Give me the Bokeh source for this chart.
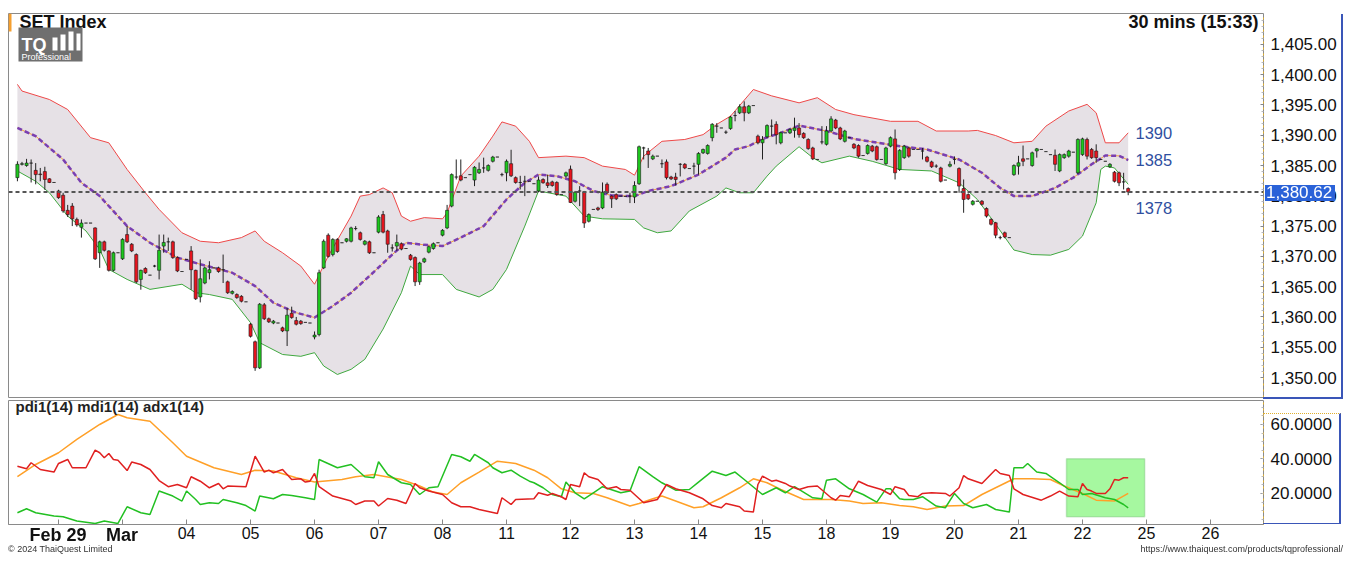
from bokeh.plotting import figure
from bokeh.models import (Range1d, FixedTicker, NumeralTickFormatter, PrintfTickFormatter,
                          Span, Label, BoxAnnotation, Div, ColumnDataSource, Spacer)
from bokeh.layouts import column, row
from bokeh.embed import file_html
from bokeh.resources import INLINE
from bokeh.core.properties import value

FONT = "Liberation Sans"

# ---------------- data (30-min bars, bar index 0..243) ----------------
opens = [1383.0,1385.2,1385.0,1385.4,1384.2,1383.6,1384.0,1382.8,1382.2,
 1380.8,1380.1,1377.6,1378.3,1376.1,1374.8,1375.5,1375.5,1374.7,1370.6,1372.4,1370.9,1367.7,1370.6,
 1369.6,1373.6,1372.0,1370.3,1366.2,1368.0,1366.9,1368.4,1367.7,1371.7,1372.4,1372.4,1369.8,1367.5,
 1369.5,1370.9,1367.7,1363.3,1365.6,1367.3,1368.1,1368.1,1367.8,1365.8,1363.9,1363.7,1363.4,1362.5,
 1358.8,1355.9,1351.6,1362.0,1359.7,1359.0,1359.0,1358.2,1357.7,1360.6,1359.4,1359.3,1359.1,1359.0,
 1356.7,1357.1,1368.1,1373.5,1370.3,1372.8,1372.25,1372.5,1372.5,1374.6,1373.9,1372.0,1372.4,1370.6,
 1374.0,1376.9,1374.2,1371.4,1371.7,1372.1,1371.3,1370.2,1369.8,1365.8,1369.1,1370.7,1371.3,1372.25,
 1373.5,1374.7,1378.3,1383.1,1383.3,1383.0,1383.5,1382.6,1383.8,1384.6,1384.2,1385.7,1386.4,1383.5,
 1383.8,1385.3,1383.0,1382.2,1382.4,1382.4,1382.0,1380.8,1382.7,1382.15,1382.3,1382.2,1380.2,1383.25,
 1384.4,1379.1,1380.8,1380.6,1375.8,1377.75,1378.0,1378.0,1381.9,1379.95,1380.2,1379.95,1379.9,1379.95,
 1379.8,1382.0,1387.9,1387.4,1386.1,1386.55,1385.3,1385.6,1383.1,1383.1,1385.2,1385.2,1384.5,1384.9,
 1385.2,1387.1,1387.0,1389.6,1391.5,1391.2,1390.5,1391.1,1393.25,1393.7,1394.7,1393.7,1394.9,
 1389.85,1388.75,1389.75,1391.5,1391.8,1388.75,1390.4,1390.4,1390.8,1391.2,1390.3,1389.3,1387.9,1386.0,
 1388.9,1388.5,1390.7,1392.5,1391.2,1389.0,1389.6,1388.5,1388.3,1386.65,1387.0,1388.2,1388.1,1386.0,
 1385.3,1388.2,1389.4,1384.35,1386.3,1387.9,1387.65,1387.65,1387.4,1386.4,1385.6,1384.9,1384.6,1382.6,
 1384.9,1386.0,1384.5,1381.2,1380.2,1378.6,1379.1,1379.1,1377.9,1376.1,1375.55,1373.1,1373.9,1373.1,
 1383.5,1384.9,1386.1,1386.1,1385.0,1387.4,1387.65,1387.3,1386.8,1386.7,1384.1,1386.3,1386.55,1387.2,
 1383.8,1386.8,1389.3,1387.65,1387.4,1386.0,1385.7,1384.8,1383.9,1383.8,1382.3,1381.2]
highs = [1385.7,1385.6,1386.1,1386.0,1385.4,1384.6,1384.8,1382.9,1382.2,
 1381.0,1380.5,1378.5,1378.8,1376.4,1376.1,1375.5,1375.5,1374.8,1372.6,1372.6,1371.0,1370.8,1370.6,
 1373.0,1375.0,1372.2,1370.5,1367.8,1368.2,1366.9,1368.6,1373.6,1373.6,1373.1,1372.6,1370.0,1367.5,
 1369.5,1371.7,1367.8,1369.5,1368.3,1369.2,1368.1,1368.3,1370.3,1366.0,1364.4,1363.9,1363.6,1362.5,
 1359.0,1356.1,1362.3,1362.3,1359.9,1359.5,1359.0,1358.4,1361.5,1361.7,1360.0,1359.5,1359.1,1359.0,
 1357.6,1367.8,1372.8,1373.8,1373.0,1373.0,1372.25,1373.0,1374.9,1375.0,1374.1,1372.7,1372.6,1370.6,
 1376.8,1377.5,1374.4,1372.0,1373.6,1372.3,1371.3,1370.4,1370.0,1369.1,1369.8,1371.8,1372.3,1372.25,
 1374.5,1378.5,1383.7,1386.0,1386.0,1383.0,1383.5,1384.9,1385.5,1386.3,1385.2,1386.6,1386.4,1383.8,
 1386.0,1387.6,1383.2,1383.3,1383.3,1382.4,1382.0,1383.2,1382.9,1383.5,1382.5,1382.4,1380.2,1384.0,
 1385.0,1380.8,1381.6,1380.8,1377.1,1377.75,1378.2,1382.2,1382.2,1380.1,1380.4,1379.95,1379.9,1380.5,
 1382.4,1388.3,1388.1,1387.9,1386.8,1386.55,1386.0,1386.0,1383.3,1383.8,1385.4,1385.4,1384.5,1385.45,
 1387.2,1387.8,1388.5,1392.0,1392.0,1391.2,1390.8,1393.2,1394.0,1395.1,1395.6,1395.0,1394.9,
 1390.1,1389.85,1391.8,1392.6,1392.3,1390.6,1390.4,1391.1,1392.9,1392.0,1390.5,1389.5,1388.1,1386.0,
 1391.5,1391.5,1393.15,1392.7,1391.4,1390.9,1389.6,1388.7,1388.5,1386.65,1388.5,1388.4,1388.3,1386.0,
 1388.1,1389.8,1390.95,1387.7,1388.4,1388.1,1387.65,1387.65,1387.9,1386.6,1385.8,1385.2,1384.8,1382.6,
 1385.7,1386.5,1384.7,1382.7,1380.4,1379.3,1379.1,1379.3,1378.1,1376.3,1375.7,1373.4,1374.1,1373.1,
 1385.2,1386.6,1388.3,1386.1,1387.3,1387.9,1387.65,1387.3,1386.8,1387.65,1387.0,1387.0,1387.6,1387.2,
 1389.5,1389.6,1389.6,1387.9,1388.5,1386.0,1385.7,1385.4,1384.1,1384.0,1383.8,1381.4]
lows = [1382.4,1385.0,1384.8,1382.2,1381.9,1382.4,1381.0,1382.1,1382.2,
 1379.5,1377.2,1376.5,1375.0,1374.9,1373.1,1375.5,1375.5,1369.4,1368.1,1370.8,1367.5,1367.5,1370.6,
 1369.4,1372.2,1370.7,1365.6,1364.5,1367.1,1366.9,1368.2,1366.2,1370.6,1370.9,1369.6,1367.4,1367.5,
 1369.5,1364.5,1362.8,1362.4,1365.4,1366.2,1368.1,1367.3,1365.6,1363.8,1363.7,1363.0,1362.4,1362.5,
 1356.6,1351.1,1351.4,1359.5,1359.0,1358.8,1359.0,1357.5,1355.2,1359.7,1358.6,1358.7,1359.1,1359.0,
 1356.3,1356.8,1367.9,1369.8,1370.0,1370.6,1372.25,1372.3,1372.3,1374.3,1372.6,1371.8,1370.4,1370.6,
 1373.8,1373.8,1370.6,1370.8,1370.9,1371.0,1371.3,1369.3,1365.1,1365.3,1368.9,1370.5,1371.1,1372.25,
 1373.3,1374.5,1378.1,1382.7,1382.4,1383.0,1383.5,1381.6,1383.6,1383.8,1384.0,1385.5,1386.4,1383.2,
 1382.4,1383.1,1382.0,1381.05,1379.95,1382.4,1382.0,1380.6,1382.0,1381.3,1381.5,1380.0,1380.2,1383.0,
 1378.8,1378.9,1378.3,1374.7,1375.6,1377.75,1377.5,1377.8,1380.3,1378.0,1379.3,1379.95,1379.9,1378.8,
 1378.8,1381.8,1386.0,1384.6,1385.9,1386.55,1384.6,1382.7,1382.6,1381.7,1383.2,1384.4,1384.5,1383.5,
 1383.5,1386.9,1386.8,1389.0,1390.4,1391.2,1390.2,1390.9,1392.3,1393.5,1392.3,1393.5,1394.9,
 1388.5,1386.0,1389.5,1389.85,1388.5,1388.5,1390.4,1390.2,1389.6,1389.6,1389.4,1387.6,1385.9,1386.0,
 1388.5,1388.3,1390.5,1391.0,1389.2,1388.8,1389.6,1387.7,1386.3,1386.65,1386.8,1387.2,1385.8,1386.0,
 1385.1,1388.0,1382.7,1384.1,1386.1,1386.3,1387.65,1387.65,1386.0,1385.5,1384.6,1384.6,1382.2,1382.6,
 1384.7,1385.2,1380.5,1377.2,1379.3,1378.4,1379.1,1378.4,1376.4,1375.1,1373.0,1372.8,1373.0,1373.1,
 1383.3,1383.5,1384.9,1386.1,1384.8,1386.3,1387.65,1387.3,1386.8,1384.1,1383.9,1386.1,1386.3,1387.2,
 1383.6,1386.6,1386.0,1386.1,1385.45,1386.0,1385.7,1384.6,1382.2,1381.6,1381.05,1380.1]
closes = [1385.2,1385.3,1385.4,1385.4,1383.5,1383.5,1382.7,1382.2,1382.2,
 1379.7,1377.5,1376.9,1376.2,1375.2,1375.5,1375.5,1375.5,1369.6,1372.4,1371.0,1367.7,1370.6,1370.6,
 1372.8,1372.4,1370.9,1365.8,1367.7,1367.3,1366.9,1368.4,1371.0,1372.3,1372.4,1369.8,1367.6,1367.5,
 1369.5,1367.8,1363.0,1366.3,1368.1,1367.8,1368.1,1367.5,1367.8,1364.0,1364.2,1363.2,1362.6,1362.5,
 1356.8,1351.6,1362.1,1359.7,1359.2,1359.3,1359.0,1357.7,1360.3,1359.9,1358.8,1358.9,1359.1,1359.0,
 1357.0,1367.3,1372.5,1370.0,1372.8,1370.8,1372.25,1372.9,1374.7,1374.6,1372.8,1372.5,1370.6,1370.6,
 1376.5,1374.0,1372.0,1371.4,1372.3,1371.2,1371.3,1369.5,1365.8,1368.9,1369.6,1371.6,1372.1,1372.25,
 1374.3,1377.6,1383.5,1383.1,1382.6,1383.0,1383.5,1384.7,1384.35,1384.6,1385.0,1386.4,1386.4,1383.5,
 1385.7,1383.3,1382.2,1382.2,1382.4,1382.4,1382.0,1382.6,1382.15,1381.7,1381.7,1380.2,1380.2,1383.8,
 1378.9,1380.6,1380.8,1375.5,1376.9,1377.75,1377.75,1380.6,1380.5,1379.5,1379.5,1379.95,1379.9,1379.95,
 1381.7,1388.1,1387.9,1386.8,1386.55,1386.55,1385.3,1383.0,1382.8,1382.7,1385.2,1384.6,1384.5,1384.9,
 1387.0,1387.65,1388.3,1391.8,1391.5,1391.2,1390.5,1393.0,1393.25,1394.7,1393.7,1394.8,1394.9,
 1388.75,1389.3,1391.6,1391.5,1390.1,1390.4,1390.4,1390.95,1391.2,1390.1,1389.6,1387.8,1386.1,1386.0,
 1388.9,1390.7,1392.7,1391.2,1389.4,1390.7,1389.6,1387.9,1386.55,1386.65,1388.3,1387.4,1386.0,1386.0,
 1387.9,1389.6,1383.8,1387.5,1388.2,1386.55,1387.65,1387.65,1387.4,1385.7,1384.8,1384.9,1382.4,1382.6,
 1385.2,1386.0,1381.6,1379.4,1379.5,1379.1,1379.1,1378.6,1376.65,1375.3,1373.5,1373.1,1373.2,1373.1,
 1385.0,1385.45,1385.7,1386.1,1387.1,1387.75,1387.65,1387.3,1386.8,1385.2,1386.8,1386.8,1387.4,1387.2,
 1389.3,1389.4,1386.55,1386.3,1386.3,1386.0,1385.7,1385.2,1382.4,1382.15,1382.3,1380.62]

# Bollinger band (20) readings: bar index -> value
bb_up_bar = [0,1,7,11,16,20,24,28,31,36,40,44,49,52,54,58,62,65,68,73,75,77,80,82,84,86,89,93,94,97,
             101,104,106,109,112,114,120,124,128,133,135,137,141,146,150,153,156,161,165,171,175,179,
             183,191,197,201,208,210,214,218,222,225,230,234,236,238,241,243]
bb_up = [1398.4,1397.3,1395.9,1394.25,1389.6,1388.75,1384.35,1380.5,1377.75,1373.9,1372.5,1372.25,
         1373.1,1374.2,1372.5,1370.6,1368.4,1365.4,1370.05,1376.65,1379.95,1380.2,1381.3,1380.5,
         1376.65,1375.8,1376.4,1376.2,1377.2,1383.25,1386.55,1389.85,1392.2,1391.5,1389.0,1386.3,
         1386.55,1386.3,1384.9,1384.35,1383.4,1386.55,1389.0,1389.3,1390.1,1391.8,1393.15,1397.55,
         1396.5,1395.35,1396.2,1394.25,1393.4,1392.3,1392.3,1390.7,1390.7,1390.8,1389.95,1388.75,
         1389.0,1391.5,1394.0,1395.1,1393.7,1388.75,1388.75,1390.4]
bb_mid_bar = [0,4,10,14,18,24,29,35,40,47,52,56,61,65,69,73,77,82,85,89,93,97,102,107,111,114,118,
              122,126,130,135,138,143,149,155,157,160,163,167,171,177,183,192,199,206,211,215,218,
              222,227,231,235,238,241,243]
bb_mid = [1391.2,1389.85,1386.0,1382.15,1379.95,1375.0,1372.25,1369.8,1368.7,1367.3,1365.1,1362.35,
          1360.7,1359.9,1361.8,1364.0,1366.75,1370.3,1372.25,1371.9,1371.7,1373.1,1375.0,1379.4,
          1382.15,1383.5,1383.25,1382.4,1380.8,1380.05,1379.95,1380.8,1381.6,1383.5,1386.3,1387.65,
          1388.2,1389.4,1390.4,1391.6,1390.7,1389.4,1388.3,1387.65,1386.0,1383.8,1381.3,1379.95,
          1379.95,1381.3,1383.0,1385.2,1386.65,1386.6,1385.9]
bb_low_bar = [0,4,7,11,15,18,20,24,29,36,39,42,47,51,53,58,62,65,67,70,73,76,80,84,86,88,93,96,101,
              104,107,111,114,120,124,128,135,137,140,143,147,153,155,158,161,164,166,171,174,176,
              182,187,193,200,206,210,214,218,222,226,230,233,236,237,238,240,243]
bb_low = [1384.1,1382.4,1380.5,1376.65,1374.2,1371.15,1367.85,1366.2,1364.55,1365.4,1364.0,1363.7,
          1362.9,1359.05,1355.75,1353.8,1353.5,1354.1,1351.9,1350.5,1351.35,1353.0,1358.0,1364.0,
          1368.4,1367.0,1367.0,1364.55,1363.3,1364.55,1367.85,1375.0,1380.8,1379.95,1376.65,1376.2,
          1376.1,1374.7,1373.9,1374.2,1377.5,1379.95,1381.3,1380.5,1380.5,1383.25,1384.9,1388.1,
          1386.3,1385.45,1386.55,1385.7,1384.35,1384.1,1382.15,1379.4,1375.3,1371.05,1370.3,1370.2,
          1371.15,1373.35,1378.85,1384.35,1384.9,1384.6,1381.9]
band_labels = ["1390", "1385", "1378"]

# DMI (14) readings: bar index -> value
adx_bar = [0,4,9,13,18,22,24,29,34,37,43,49,52,56,61,65,71,74,78,84,88,91,94,97,101,105,109,113,116,
           119,122,126,129,134,136,139,141,144,148,150,154,158,161,164,167,172,176,178,182,185,189,
           193,196,199,203,207,211,214,218,222,226,229,233,236,240,243]
adx = [29.7,36.8,43.6,51.3,60.0,65.8,63.9,61.9,49.4,41.6,34.9,31.0,33.5,33.0,29.1,26.6,28.1,29.7,31.0,
       28.1,24.3,20.8,19.4,26.2,32.4,38.7,37.4,33.5,29.1,22.7,20.4,20.0,17.5,12.7,14.2,16.9,18.5,15.6,
       11.7,12.3,17.5,23.3,28.5,26.2,22.3,16.5,16.5,16.5,15.6,14.2,14.6,13.0,12.3,10.7,12.7,13.0,19.4,
       23.3,28.5,28.5,28.1,24.3,20.0,16.1,15.6,20.0]
mdi_bar = [0,2,3,5,8,9,11,12,15,17,18,19,20,21,22,24,25,27,29,31,33,35,37,38,40,42,44,45,46,50,52,54,
           55,56,58,60,62,63,64,65,66,69,73,74,76,78,79,81,83,85,87,88,90,93,95,97,99,101,105,106,108,
           109,113,114,116,117,119,120,121,123,124,125,127,129,131,132,134,137,140,142,144,147,150,152,
           154,155,158,159,161,162,163,165,166,168,169,171,173,175,178,179,180,182,184,186,189,191,192,
           194,195,197,198,200,203,204,206,207,208,211,214,215,217,218,220,224,226,228,230,232,233,234,
           235,236,238,239,240,241,242,243]
mdi = [35.8,34.3,37.8,33.9,32.4,37.4,39.7,34.9,34.9,45.1,43.6,40.7,43.2,39.7,39.3,33.3,38.2,36.8,33.9,
       27.5,23.9,25.2,23.3,29.7,27.1,23.3,25.8,22.7,24.3,23.9,41.6,32.4,33.5,32.0,33.9,28.1,28.5,26.6,
       27.1,31.6,23.9,18.5,15.6,13.6,15.6,15.6,12.7,17.1,16.1,14.2,25.8,23.3,21.4,19.4,14.6,12.3,12.3,
       10.7,8.4,17.5,13.6,16.5,16.9,20.4,19.0,20.0,18.1,16.5,25.2,23.9,32.0,29.7,28.1,22.7,23.9,22.3,
       21.9,14.6,16.5,25.2,22.7,20.4,16.9,13.0,11.7,14.2,12.3,9.8,9.2,25.2,30.0,27.1,27.7,25.8,24.3,
       22.3,23.9,24.3,17.5,16.1,18.8,18.1,27.1,24.6,22.3,19.4,23.9,22.3,18.8,18.1,20.0,20.4,20.0,18.5,
       23.3,30.4,28.5,25.8,33.9,31.6,30.4,22.7,19.4,16.1,18.5,21.4,18.5,18.1,25.8,22.3,21.4,20.0,20.0,
       22.7,28.1,27.7,29.1,29.1]
pdi_bar = [0,2,4,8,10,13,17,19,22,24,27,29,31,34,36,37,39,40,42,44,45,48,50,52,53,56,58,60,63,65,66,
           70,73,76,78,79,81,84,86,88,90,92,95,97,99,100,103,104,106,108,110,112,113,115,117,119,120,
           122,124,126,128,132,134,136,139,141,144,147,149,152,155,157,159,163,166,168,170,174,176,177,
           179,182,185,188,190,191,193,194,196,198,201,203,205,207,209,212,214,217,218,220,221,223,225,
           228,230,232,233,235,238,240,242,243]
pdi = [8.8,11.1,8.8,6.9,6.5,4.0,2.6,4.0,2.6,12.3,8.8,7.8,21.4,18.5,15.6,21.4,16.5,13.6,14.6,14.2,16.5,
       14.6,13.0,9.8,18.5,16.9,19.4,18.8,17.5,16.5,39.7,34.9,36.8,29.7,29.1,38.4,31.0,26.2,25.2,19.4,
       23.3,23.9,42.6,41.3,38.7,42.6,37.8,34.9,32.0,33.5,30.0,27.1,26.2,23.3,19.4,18.1,26.6,20.4,16.9,
       20.4,23.9,20.4,21.4,35.5,29.7,26.2,21.9,22.3,26.6,32.9,30.4,32.4,28.1,19.4,23.3,20.4,23.9,17.5,
       16.9,27.7,28.5,22.7,19.4,15.0,22.7,22.7,16.9,16.5,16.5,18.1,12.7,11.7,20.0,14.2,11.7,13.6,10.7,
       9.2,34.9,34.9,37.4,32.4,31.6,26.2,22.3,22.3,19.4,20.0,17.5,16.5,13.6,11.7]

day_start_bar = [9, 23, 37, 51, 65, 79, 93, 107, 121, 135, 149, 163, 177, 191, 205, 219, 233, 247, 261]
day_labels = ["Feb 29", "Mar", "04", "05", "06", "07", "08", "11", "12", "13", "14", "15",
              "18", "19", "20", "21", "22", "25", "26"]
month_labels = {"Feb 29", "Mar"}
price_ticks = [1350, 1355, 1360, 1365, 1370, 1375, 1380, 1385, 1390, 1395, 1400, 1405]
dmi_ticks = [20, 40, 60]
highlight = dict(start_bar=229.5, end_bar=246.6, low=6.5, high=40.1)

# ---------------- layout constants ----------------
W = 1335
RIGHT = 80
TOP_H = 386
BOT_H = 146
FW = W - RIGHT
FH = TOP_H - 2
BFH = BOT_H - 22
X0, X1 = -1.95, 272.6
XR = Range1d(X0, X1)
PY0, PY1 = 1346.7, 1410.1
PAGE_X0, PAGE_Y0 = 8, 14

UP, DN, FLAT = "#1ec81e", "#e8141e", "#909090"


def sbox(fig, l, r, b, t, color):
    fig.add_layout(BoxAnnotation(left=l, right=r, bottom=b, top=t, left_units="screen",
                                 right_units="screen", top_units="screen", bottom_units="screen",
                                 fill_color=color, fill_alpha=1, line_color=None))


def style_right_axis(a):
    a.major_label_text_font = FONT
    a.major_label_text_font_size = "17px"
    a.major_label_text_color = "#111111"
    a.axis_line_color = "#e0b030"
    a.axis_line_dash = "dotted"
    a.major_tick_in = 3
    a.major_tick_out = 0
    a.minor_tick_in = 2
    a.minor_tick_out = 0
    a.major_tick_line_color = "#888888"
    a.minor_tick_line_color = "#bbbbbb"
    a.major_label_standoff = 7


# ---------------- price panel ----------------
top = figure(width=W, height=TOP_H, x_range=XR, y_range=Range1d(PY0, PY1),
             x_axis_location=None, y_axis_location="right", toolbar_location=None,
             output_backend="svg", min_border_left=0, min_border_right=RIGHT,
             min_border_top=0, min_border_bottom=2)
top.grid.visible = False
top.outline_line_color = "#8a8a8a"
top.background_fill_color = "white"
top.border_fill_color = "white"

band_x = bb_up_bar + bb_low_bar[::-1]
band_y = bb_up + bb_low[::-1]
top.patch(band_x, band_y, fill_color="#e6e1e6", line_color=None)
top.line(bb_up_bar, bb_up, line_color="#ee4848", line_width=1)
top.line(bb_low_bar, bb_low, line_color="#3fa83f", line_width=1)
top.line(bb_mid_bar, bb_mid, line_color="#f0a040", line_width=1)
top.line(bb_mid_bar, bb_mid, line_color="#7a3fb0", line_width=2.5, line_dash="5 3")

top.add_layout(Span(location=closes[-1], dimension="width", line_color="#555555",
                    line_width=2, line_dash="4 3"))

idx = list(range(len(closes)))
body_top = [max(o, c) for o, c in zip(opens, closes)]
body_bot = [min(o, c) for o, c in zip(opens, closes)]
colors = [UP if c > o else (DN if c < o else FLAT) for o, c in zip(opens, closes)]
src = ColumnDataSource(dict(x=idx, h=highs, l=lows, t=body_top, b=body_bot, c=colors))
top.segment("x", "h", "x", "l", source=src, line_color="#222222", line_width=1)
top.vbar(x="x", top="t", bottom="b", width=0.68, source=src, fill_color="c",
         line_color="#1a1a1a", line_width=0.6)

# band value labels
lab_x = [idx[-1] + 1.6] * 3
lab_y = [bb_up[-1], bb_mid[-1], float(band_labels[2])]
top.text(lab_x, lab_y, text=band_labels, text_color="#2f4f9f", text_font=value(FONT),
         text_font_size="16.5px", text_baseline="middle", text_align="left")

ax = top.yaxis[0]
ax.ticker = FixedTicker(ticks=price_ticks, minor_ticks=[p + d for p in price_ticks for d in (1, 2, 3, 4)])
ax.formatter = NumeralTickFormatter(format="0,0.00")
style_right_axis(ax)

top.add_layout(Label(x=11, y=FH - 8, x_units="screen", y_units="screen", text="SET Index",
                     text_font=FONT, text_font_size="18px", text_font_style="bold",
                     text_color="#111111", text_baseline="middle"))
top.add_layout(Label(x=FW - 5, y=FH - 8, x_units="screen", y_units="screen",
                     text="30 mins (15:33)", text_font=FONT, text_font_size="18px",
                     text_font_style="bold", text_color="#111111", text_baseline="middle",
                     text_align="right"))
sbox(top, 0, 3, FH - 18, FH, "#f5a030")
# logo
sbox(top, 10, 74, FH - 48, FH - 14, "#6f6f6f")
for (l, r, t) in [(44, 49, 24), (52, 57, 21), (60, 65, 18), (68, 72, 20)]:
    sbox(top, l, r, FH - 37, FH - t, "white")
top.add_layout(Label(x=13, y=FH - 31, x_units="screen", y_units="screen", text="TQ",
                     text_font=FONT, text_font_size="18px", text_font_style="bold",
                     text_color="white", text_baseline="middle"))
top.add_layout(Label(x=13, y=FH - 43, x_units="screen", y_units="screen", text="Professional",
                     text_font=FONT, text_font_size="9px", text_color="white",
                     text_baseline="middle"))

# ---------------- DMI panel ----------------
bot = figure(width=W, height=BOT_H, x_range=XR, y_range=Range1d(2.0, 73.9),
             y_axis_location="right", toolbar_location=None, output_backend="svg",
             min_border_left=0, min_border_right=RIGHT, min_border_top=1, min_border_bottom=21)
bot.grid.visible = False
bot.outline_line_color = "#8a8a8a"
bot.border_fill_color = "white"

bot.add_layout(BoxAnnotation(left=highlight["start_bar"], right=highlight["end_bar"],
                             bottom=highlight["low"], top=highlight["high"], fill_color="#a6f8a0",
                             fill_alpha=1, line_color="#55b055", line_width=1.5, level="underlay"))
bot.line(adx_bar, adx, line_color="#ffa028", line_width=1.5)
bot.line(pdi_bar, pdi, line_color="#22c022", line_width=1.5)
bot.line(mdi_bar, mdi, line_color="#e02020", line_width=1.5)

bot.add_layout(Label(x=7, y=BFH - 6, x_units="screen", y_units="screen",
                     text="pdi1(14) mdi1(14) adx1(14)", text_font=FONT, text_font_size="15px",
                     text_font_style="bold", text_color="#222222", text_baseline="middle"))

by = bot.yaxis[0]
by.ticker = FixedTicker(ticks=dmi_ticks, minor_ticks=list(range(5, 75, 5)))
by.formatter = PrintfTickFormatter(format="%.4f")
style_right_axis(by)

bx = bot.xaxis[0]
bx.ticker = FixedTicker(ticks=day_start_bar)
bx.major_label_overrides = {t: ("" if s in month_labels else s)
                            for t, s in zip(day_start_bar, day_labels)}
bx.major_label_text_font = FONT
bx.major_label_text_font_size = "16px"
bx.major_label_text_color = "#111111"
bx.axis_line_color = "#8a8a8a"
bx.major_tick_in = 5
bx.major_tick_out = 0
bx.major_tick_line_color = "#888888"
bx.minor_tick_line_color = None
bx.major_label_standoff = 2

# ---------------- page-level overlay: last-price tag, axis box edges, bold month labels, footer ----
tag_center = PAGE_Y0 + (PY1 - closes[-1]) / (PY1 - PY0) * FH
bot_top = PAGE_Y0 + TOP_H
parts = [
    f'<div style="position:fixed;left:{PAGE_X0 + FW + 2}px;top:{tag_center - 8:.1f}px;height:16px;'
    'line-height:16px;padding:0 3px 0 1px;background:#2a62d8;color:#ffffff;'
    f'font-family:\'{FONT}\';font-size:17px;white-space:nowrap;">{closes[-1]:,.2f}</div>',
    f'<div style="position:fixed;left:{PAGE_X0 + W - 2}px;top:{PAGE_Y0}px;width:2px;height:{FH}px;'
    'background:#3a56b8;"></div>',
    f'<div style="position:fixed;left:{PAGE_X0 + FW}px;top:{PAGE_Y0 + FH - 1}px;width:{RIGHT}px;'
    'height:2px;background:#3a56b8;"></div>',
    f'<div style="position:fixed;left:{PAGE_X0 + FW}px;top:{bot_top + 13}px;width:{RIGHT - 2}px;'
    f'height:{BFH - 13}px;border-top:1px dotted #e0b030;border-right:2px solid #3a56b8;'
    'border-bottom:1px solid #3a56b8;"></div>',
]
for t, s in zip(day_start_bar, day_labels):
    if s in month_labels:
        px = PAGE_X0 + (t - X0) / (X1 - X0) * FW
        parts.append(
            f'<div style="position:fixed;left:{px:.1f}px;top:{bot_top + BFH + 2}px;'
            'transform:translateX(-50%);white-space:nowrap;line-height:18px;'
            f'font-family:\'{FONT}\';font-size:18px;font-weight:bold;color:#111111;">{s}</div>')
parts.append(
    f'<div style="position:fixed;left:{PAGE_X0}px;top:{bot_top + BOT_H - 2}px;width:{W}px;'
    'display:flex;justify-content:space-between;line-height:10px;'
    f'font-family:\'{FONT}\';font-size:9px;color:#333333;">'
    '<span>&copy; 2024 ThaiQuest Limited</span>'
    '<span>https://www.thaiquest.com/products/tqprofessional/</span></div>')
overlay = Div(text="".join(parts), width=W, height=0, margin=0)

layout = row(Spacer(width=8, height=10),
             column(Spacer(width=W, height=13), top, bot, overlay, spacing=0),
             spacing=0)
html = file_html(layout, INLINE, title="SET Index")
html = html.replace("<body>", '<body style="background-color:#f0f0f0;">', 1)
open("out.html", "w").write(html)
